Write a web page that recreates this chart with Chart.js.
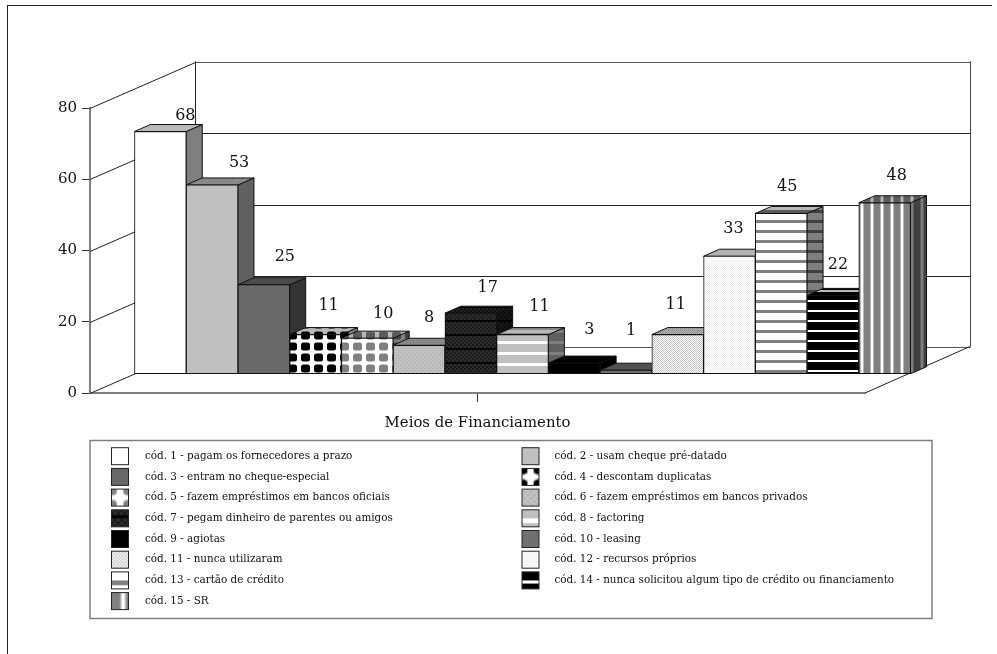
<!DOCTYPE html>
<html>
<head>
<meta charset="utf-8">
<title>Meios de Financiamento</title>
<script src="https://cdn.jsdelivr.net/npm/chart.js@4/dist/chart.umd.min.js"></script>
<style>
  html, body { margin: 0; padding: 0; background: #fff; }
  #wrap { position: relative; width: 997px; height: 654px; }
  #frame { position: absolute; left: 7px; top: 5px; width: 985px; height: 649px; border-left: 1px solid #222; border-top: 1px solid #222; box-sizing: border-box; }
  canvas { position: absolute; left: 0; top: 0; }
</style>
</head>
<body>
<div id="wrap">
  <div id="frame"></div>
  <canvas id="chart" width="997" height="654"></canvas>
</div>
<script>
const CODES = [1, 2, 3, 4, 5, 6, 7, 8, 9, 10, 11, 12, 13, 14, 15];
const VALUES = [68, 53, 25, 11, 10, 8, 17, 11, 3, 1, 11, 33, 45, 22, 48];
const LEGEND_LABELS = [
  "cód. 1 - pagam os fornecedores a prazo",
  "cód. 2 - usam cheque pré-datado",
  "cód. 3 - entram no cheque-especial",
  "cód. 4 - descontam duplicatas",
  "cód. 5 - fazem empréstimos em bancos oficiais",
  "cód. 6 - fazem empréstimos em bancos privados",
  "cód. 7 - pegam dinheiro de parentes ou amigos",
  "cód. 8 - factoring",
  "cód. 9 - agiotas",
  "cód. 10 - leasing",
  "cód. 11 - nunca utilizaram",
  "cód. 12 - recursos próprios",
  "cód. 13 - cartão de crédito",
  "cód. 14 - nunca solicitou algum tipo de crédito ou financiamento",
  "cód. 15 - SR",
];
const AXIS_TITLE = "Meios de Financiamento";
// hand placed value labels: shift from the bar's top centre
const LABEL_DX = [25, 27, 21, 13, 16, 10, 17, 17, 15, 5, -2, 4, 6, 5, 12];
const LABEL_DY = [-16, -22, -28, -29, -24, -27, -25, -28, -33, -39, -30, -27, -27, -31, -27];

const SERIF = '"DejaVu Serif", serif';
const DEPTH_X = 16, DEPTH_Y = 7;        // bar depth
const WALL_X = 105.5, WALL_Y = 46.7;    // floor depth
const FLOOR_SHIFT = 5.4;                // bars stand this far (in value units) behind the front edge

function tile(w, h, paint) {
  const c = document.createElement("canvas");
  c.width = w; c.height = h;
  const g = c.getContext("2d");
  paint(g, w, h);
  return g.createPattern(c, "repeat");
}
function stipple(bg, dot, step) {
  return tile(step * 2, step * 2, (g, w, h) => {
    g.fillStyle = bg; g.fillRect(0, 0, w, h);
    g.fillStyle = dot;
    g.fillRect(0, 0, 1, 1);
    g.fillRect(step, step, 1, 1);
  });
}
function hStripes(bg, line, period, thick) {
  return tile(4, period, (g, w, h) => {
    g.fillStyle = bg; g.fillRect(0, 0, w, h);
    g.fillStyle = line; g.fillRect(0, 0, w, thick);
  });
}
function vStripes(bg, line, period, thick) {
  return tile(period, 4, (g, w, h) => {
    g.fillStyle = bg; g.fillRect(0, 0, w, h);
    g.fillStyle = "#b8b8b8"; g.fillRect(0, 0, thick + 2, h);
    g.fillStyle = line; g.fillRect(1, 0, thick, h);
  });
}
function lattice(dot) {
  return tile(13, 11, (g, w, h) => {
    g.fillStyle = "#fff"; g.fillRect(0, 0, w, h);
    g.fillStyle = dot;
    g.beginPath();
    g.roundRect(2, 1.5, 9, 8, 2.5);
    g.fill();
  });
}
function darkGrid() {
  return tile(4, 14, (g, w, h) => {
    g.fillStyle = "#2e2e2e"; g.fillRect(0, 0, w, h);
    g.fillStyle = "#1a1a1a";
    g.fillRect(0, 0, 2, 2); g.fillRect(2, 2, 2, 2);
    g.fillRect(0, 4, 2, 2); g.fillRect(2, 6, 2, 2);
    g.fillRect(0, 8, 2, 2); g.fillRect(2, 10, 2, 2);
    g.fillStyle = "#050505"; g.fillRect(0, 12, w, 2);
  });
}

const FILLS = [
  "#ffffff",
  "#c0c0c0",
  "#696969",
  lattice("#000000"),
  lattice("#808080"),
  stipple("#c0c0c0", "#a8a8a8", 2),
  darkGrid(),
  hStripes("#c0c0c0", "#ffffff", 11, 3),
  "#000000",
  "#707070",
  stipple("#ffffff", "#c4c4c4", 1),
  stipple("#ffffff", "#f0f0f0", 1),
  hStripes("#ffffff", "#808080", 10, 3),
  hStripes("#000000", "#ffffff", 10, 2),
  vStripes("#808080", "#ffffff", 10, 2),
];

function shade(ctx, pts, fill, amount) {
  ctx.beginPath();
  pts.forEach((p, i) => (i ? ctx.lineTo(p[0], p[1]) : ctx.moveTo(p[0], p[1])));
  ctx.closePath();
  ctx.fillStyle = fill;
  ctx.fill();
  ctx.fillStyle = "rgba(0,0,0," + amount + ")";
  ctx.fill();
  ctx.strokeStyle = "#111";
  ctx.lineWidth = 1;
  ctx.stroke();
}

function line(ctx, x1, y1, x2, y2, color, width) {
  ctx.beginPath();
  ctx.moveTo(x1, y1);
  ctx.lineTo(x2, y2);
  ctx.strokeStyle = color;
  ctx.lineWidth = width || 1;
  ctx.stroke();
}

// floor, left wall and back wall, hung off the y axis
const roomPlugin = {
  id: "room",
  beforeDatasetsDraw(chart) {
    const { ctx, chartArea: a, scales: { y } } = chart;
    ctx.save();
    y.ticks.forEach((t) => {
      const py = Math.round(y.getPixelForValue(t.value)) + 0.5;
      const by = Math.round(py - WALL_Y) + 0.5;
      line(ctx, a.left, py, a.left + WALL_X, by, "#222");
      line(ctx, a.left + WALL_X, by, a.right + WALL_X, by, t.value === 0 || t.value === 80 ? "#555" : "#222");
    });
    const bottom = y.getPixelForValue(0), top = y.getPixelForValue(80);
    line(ctx, a.left + WALL_X, top - WALL_Y, a.left + WALL_X, bottom - WALL_Y, "#222");
    line(ctx, a.right + WALL_X, top - WALL_Y, a.right + WALL_X, bottom - WALL_Y, "#444");
    line(ctx, a.right, bottom, a.right + WALL_X, bottom - WALL_Y, "#222");
    ctx.restore();
  },
  // side and top faces of each bar go underneath the front faces
  beforeDatasetDraw(chart, args) {
    const { ctx } = chart;
    const bars = chart.getDatasetMeta(args.index).data;
    ctx.save();
    bars.forEach((b, i) => {
      const r = b.x + b.width / 2;
      shade(ctx, [[r, b.y], [r + DEPTH_X, b.y - DEPTH_Y], [r + DEPTH_X, b.base - DEPTH_Y], [r, b.base]], FILLS[i], 0.5);
    });
    bars.forEach((b, i) => {
      const l = b.x - b.width / 2, r = b.x + b.width / 2;
      shade(ctx, [[l, b.y], [l + DEPTH_X, b.y - DEPTH_Y], [r + DEPTH_X, b.y - DEPTH_Y], [r, b.y]], FILLS[i], 0.28);
    });
    ctx.restore();
  },
  afterDatasetsDraw(chart) {
    const { ctx } = chart;
    const bars = chart.getDatasetMeta(0).data;
    ctx.save();
    ctx.font = "16px " + SERIF;
    ctx.fillStyle = "#111";
    ctx.textAlign = "center";
    ctx.textBaseline = "middle";
    bars.forEach((b, i) => {
      ctx.fillText(String(VALUES[i]), b.x + LABEL_DX[i], b.y + LABEL_DY[i]);
    });
    ctx.restore();
  },
};

// boxed two column key under the chart
const keyPlugin = {
  id: "key",
  afterDraw(chart) {
    const { ctx } = chart;
    ctx.save();
    ctx.strokeStyle = "#808080";
    ctx.lineWidth = 1.5;
    ctx.strokeRect(90, 440.5, 842, 178);
    ctx.font = "10.4px " + SERIF;
    ctx.textBaseline = "middle";
    LEGEND_LABELS.forEach((label, i) => {
      const row = Math.floor(i / 2);
      const cy = 456.2 + row * 20.7;
      const sx = i % 2 ? 522 : 111.5;
      // swatch shows the fill enlarged, centred on one cell of its pattern
      ctx.save();
      ctx.translate(sx + 8.5, cy);
      ctx.scale(1.6, 1.6);
      ctx.fillStyle = FILLS[i];
      ctx.fillRect(-8.5 / 1.6, -8.5 / 1.6, 17 / 1.6, 17 / 1.6);
      ctx.restore();
      ctx.strokeStyle = "#222";
      ctx.lineWidth = 1;
      ctx.strokeRect(sx, cy - 8.5, 17, 17);
      ctx.fillStyle = "#111";
      ctx.fillText(label, i % 2 ? 554.5 : 145, cy);
    });
    ctx.restore();
  },
};

new Chart(document.getElementById("chart"), {
  type: "bar",
  data: {
    labels: [""],
    datasets: [{
      data: CODES.map((c, i) => ({ x: c, y: VALUES[i] })),
      xAxisID: "xBars",
      yAxisID: "yBars",
      backgroundColor: FILLS,
      borderColor: "#111",
      borderWidth: 1,
      borderSkipped: false,
      barPercentage: 1,
      categoryPercentage: 1,
      clip: false,
    }],
  },
  options: {
    responsive: false,
    animation: false,
    events: [],
    layout: { padding: { left: 40, right: 132, top: 108, bottom: 222 } },
    plugins: { legend: { display: false }, tooltip: { enabled: false } },
    scales: {
      x: {
        type: "category",
        offset: true,
        grid: { display: true, offset: false, drawOnChartArea: false, color: "#333", tickLength: 9 },
        border: { color: "#808080", width: 2 },
        ticks: { display: false },
        title: { display: true, text: AXIS_TITLE, color: "#111", font: { family: SERIF, size: 14.9 }, padding: 0 },
        afterFit(s) { s.height = 39; },
      },
      y: {
        position: "left",
        min: 0,
        max: 80,
        grid: { drawOnChartArea: false, color: "#333", tickLength: 8 },
        border: { color: "#808080", width: 2 },
        ticks: { stepSize: 20, color: "#111", font: { family: SERIF, size: 15 }, padding: 5 },
        afterFit(s) { s.width = 50; },
      },
      // the bars' own plane, set back from the axis by the floor depth
      xBars: { type: "linear", display: false, offset: false, min: -0.36, max: 14.62 },
      yBars: { type: "linear", display: false, min: -FLOOR_SHIFT, max: 80 - FLOOR_SHIFT },
    },
  },
  plugins: [roomPlugin, keyPlugin],
});
</script>
</body>
</html>
